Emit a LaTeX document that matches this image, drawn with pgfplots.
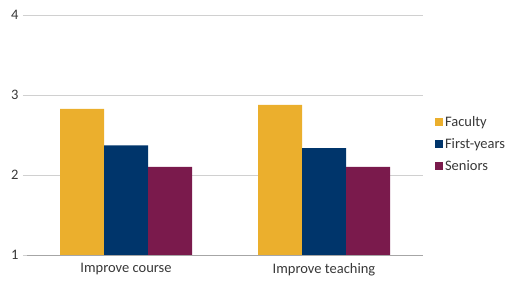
\documentclass[border=0pt]{standalone}
\usepackage{pgfplots}
\pgfplotsset{compat=1.18}
\usepackage{fontspec}
\setmainfont{Carlito}
\definecolor{fac}{HTML}{EBAF2D}
\definecolor{fy}{HTML}{00356B}
\definecolor{sen}{HTML}{7A1A4C}
\definecolor{gridc}{HTML}{D0D0D0}
\begin{document}
\begin{tikzpicture}
\begin{axis}[name=ax,
  scale only axis, width=396pt, height=240pt,
  ybar=0pt, bar width=44pt,
  xmin=-0.5, xmax=1.5, ymin=1, ymax=4,
  ytick={1,2,3,4},
  xtick={0,1}, xticklabels={Improve course, Improve teaching},
  x tick style={draw=none},
  extra x ticks={-0.5,0.5,1.5}, extra x tick labels={},
  extra x tick style={tick style={draw=gridc!70!black, thin}, major tick length=4pt, tick align=outside, grid=none},
  y tick style={draw=gridc}, major tick length=4pt, tick align=outside,
  ymajorgrids, grid style={gridc, thin},
  axis x line*=bottom, axis y line*=left,
  x axis line style={draw=gridc!80!black, -},
  y axis line style={draw=none},
  tick label style={font=\fontsize{14.5}{17}\selectfont, text=black!78},
  /pgf/number format/assume math mode=true,
  yticklabel style={xshift=-1pt},
  xticklabel style={yshift=-1pt},
  legend style={draw=none, at={(1.03,0.4625)}, anchor=west, font=\fontsize{14.5}{17}\selectfont, text=black!78, row sep=6.5pt, fill=none, inner sep=0pt},
  legend image code/.code={\fill[#1] (0pt,-4pt) rectangle (8pt,4pt);},
  legend cell align=left,
]
\addplot[fill=fac, draw=none] coordinates {(0,2.825) (1,2.875)};
\addplot[fill=fy, draw=none] coordinates {(0,2.37) (1,2.335)};
\addplot[fill=sen, draw=none] coordinates {(0,2.10) (1,2.10)};
\legend{Faculty, First-years, Seniors}
\end{axis}
\pgfresetboundingbox
\useasboundingbox ([xshift=-27pt,yshift=-27pt]ax.south west) rectangle ([xshift=88pt,yshift=15pt]ax.north east);
\end{tikzpicture}
\end{document}
